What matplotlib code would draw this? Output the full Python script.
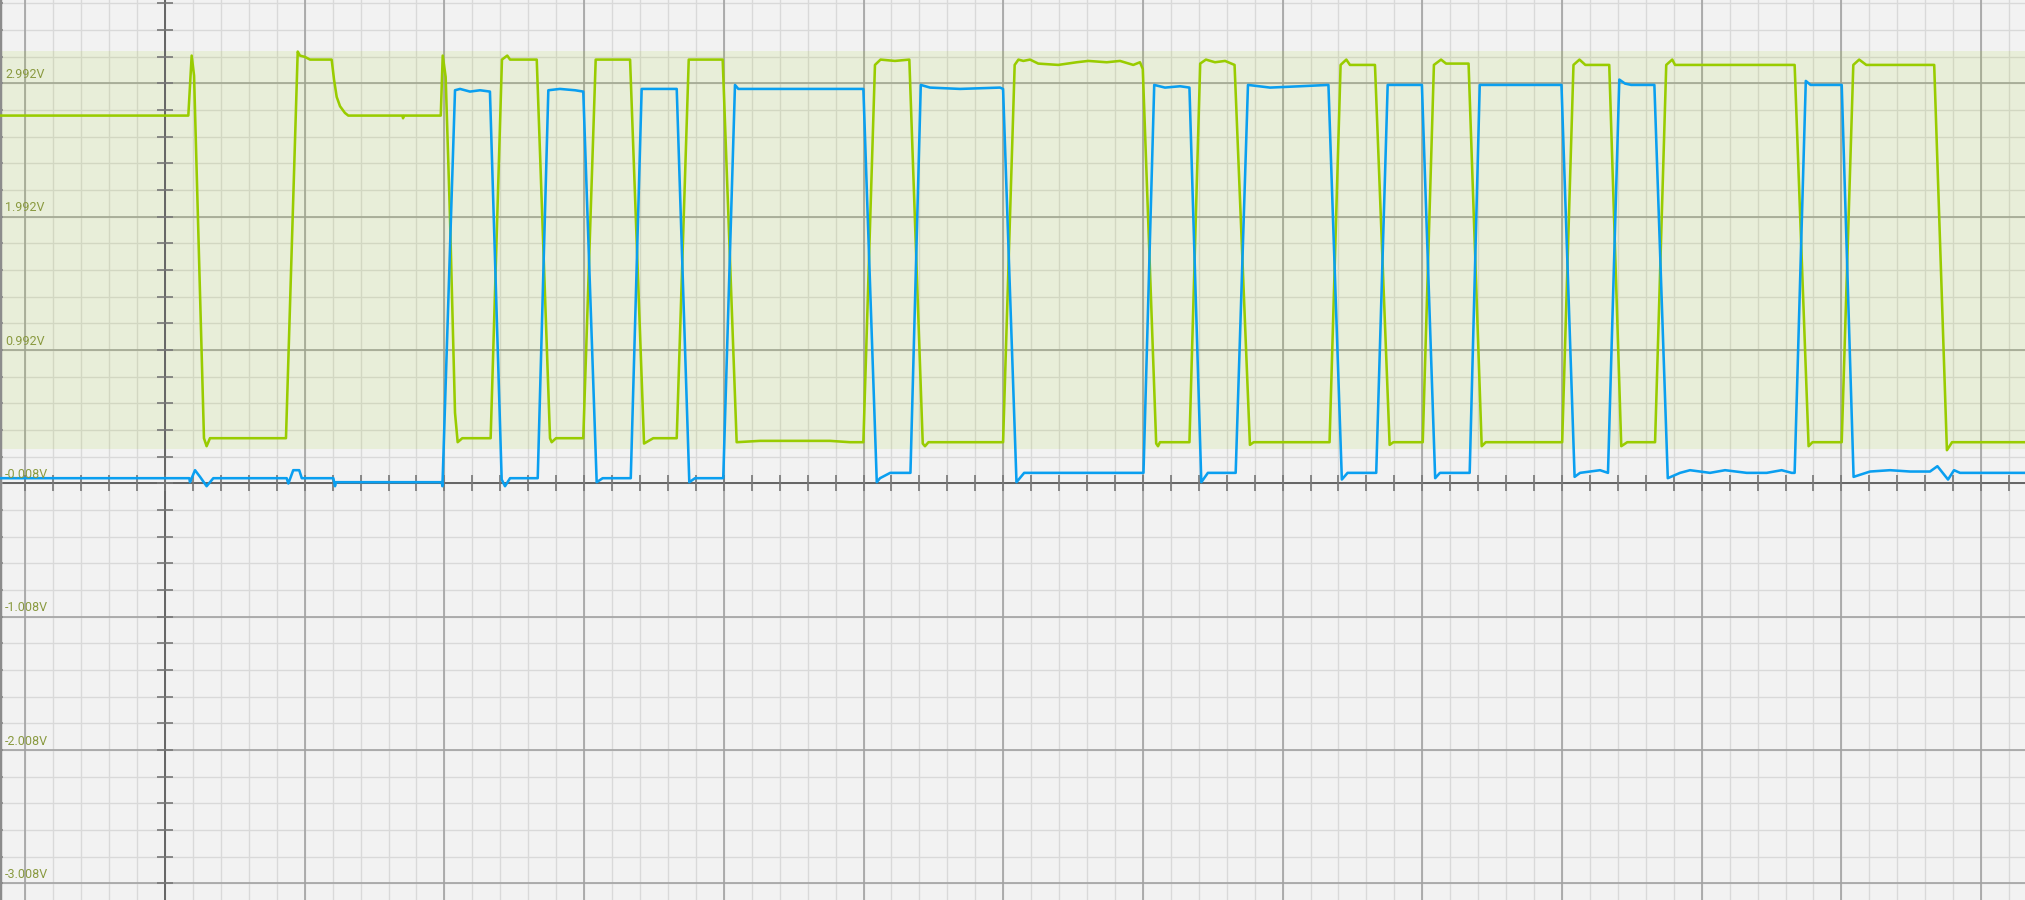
import matplotlib
matplotlib.use("Agg")
import matplotlib.pyplot as plt
import numpy as np

# time in divisions (0 = trigger axis), voltage in V
green_t = [-1.181, 0.167, 0.191, 0.208, 0.279, 0.298, 0.322, 0.866, 0.950, 0.966, 1.002, 1.038,
           1.193, 1.210, 1.229, 1.253, 1.288, 1.312, 1.700, 1.704, 1.710, 1.974, 1.988, 2.009,
           2.040, 2.076, 2.095, 2.128, 2.331, 2.412, 2.450, 2.470, 2.661, 2.756, 2.768, 2.799,
           2.994, 3.083, 3.329, 3.429, 3.495, 3.663, 3.749, 3.992, 4.092, 4.259, 4.545, 4.760,
           4.903, 4.999, 5.082, 5.122, 5.225, 5.328, 5.424, 5.440, 5.465, 5.999, 6.082, 6.109,
           6.144, 6.192, 6.251, 6.394, 6.526, 6.609, 6.741, 6.836, 6.931, 6.979, 6.999, 7.095,
           7.108, 7.122, 7.333, 7.410, 7.451, 7.516, 7.588, 7.656, 7.766, 7.793, 8.336, 8.415,
           8.456, 8.482, 8.661, 8.766, 8.793, 9.003, 9.083, 9.134, 9.170, 9.331, 9.425, 9.454,
           10.001, 10.082, 10.125, 10.167, 10.338, 10.424, 10.467, 10.666, 10.746, 10.789, 10.809,
           11.665, 11.765, 11.793, 12.002, 12.085, 12.127, 12.178, 12.664, 12.755, 12.792, 13.314]
green_v = [2.75, 2.75, 3.20, 3.05, 0.33, 0.27, 0.33, 0.33, 3.23, 3.20, 3.19, 3.17,
           3.17, 3.02, 2.89, 2.82, 2.77, 2.75, 2.75, 2.73, 2.75, 2.75, 3.20, 3.04,
           1.99, 0.52, 0.30, 0.33, 0.33, 3.17, 3.20, 3.17, 3.17, 0.33, 0.30, 0.33,
           0.33, 3.17, 3.17, 0.29, 0.33, 0.33, 3.17, 3.17, 0.30, 0.31, 0.31, 0.31,
           0.30, 0.30, 3.13, 3.17, 3.16, 3.17, 0.29, 0.27, 0.30, 0.30, 3.13, 3.17,
           3.16, 3.17, 3.14, 3.13, 3.15, 3.16, 3.15, 3.16, 3.13, 3.15, 3.10, 0.29,
           0.27, 0.30, 0.30, 3.14, 3.17, 3.15, 3.16, 3.13, 0.28, 0.30, 0.30, 3.13,
           3.17, 3.13, 3.13, 0.28, 0.30, 0.30, 3.13, 3.17, 3.14, 3.14, 0.27, 0.30,
           0.30, 3.13, 3.17, 3.13, 3.13, 0.27, 0.30, 0.30, 3.13, 3.17, 3.13,
           3.13, 0.27, 0.30, 0.30, 3.13, 3.17, 3.13, 3.13, 0.24, 0.30, 0.30]

blue_t = [-1.181, 0.174, 0.179, 0.215, 0.251, 0.298, 0.346, 0.871, 0.883, 0.918, 0.961, 0.979,
          1.205, 1.217, 1.224, 1.981, 1.986, 2.076, 2.112, 2.183, 2.255, 2.326, 2.410, 2.434,
          2.470, 2.668, 2.744, 2.827, 2.935, 2.994, 3.090, 3.133, 3.334, 3.412, 3.663, 3.753,
          3.794, 3.996, 4.080, 4.104, 4.999, 5.095, 5.118, 5.191, 5.336, 5.410, 5.476, 5.691,
          5.977, 5.999, 6.095, 6.150, 7.004, 7.081, 7.158, 7.266, 7.333, 7.418, 7.465, 7.664,
          7.752, 7.910, 8.125, 8.328, 8.424, 8.465, 8.670, 8.752, 8.997, 9.092, 9.126, 9.339,
          9.411, 9.996, 10.090, 10.129, 10.200, 10.272, 10.329, 10.410, 10.451, 10.495, 10.661,
          10.757, 10.845, 10.916, 10.988, 11.059, 11.167, 11.322, 11.465, 11.572, 11.644, 11.665,
          11.745, 11.779, 12.002, 12.087, 12.205, 12.348, 12.491, 12.634, 12.687, 12.763, 12.806,
          12.849, 13.314]
blue_v = [0.03, 0.03, 0.00, 0.09, 0.04, -0.03, 0.03, 0.03, -0.01, 0.09, 0.09, 0.03,
          0.03, -0.03, 0.00, 0.00, -0.03, 2.94, 2.95, 2.93, 2.94, 2.93, 0.02, -0.03,
          0.03, 0.03, 2.94, 2.95, 2.94, 2.93, 0.00, 0.03, 0.03, 2.95, 2.95, 0.00,
          0.03, 0.03, 2.98, 2.95, 2.95, 0.00, 0.03, 0.07, 0.07, 2.98, 2.96, 2.95,
          2.96, 2.95, 0.00, 0.07, 0.07, 2.98, 2.96, 2.97, 2.96, 0.00, 0.07, 0.07,
          2.98, 2.96, 2.97, 2.98, 0.02, 0.07, 0.07, 2.98, 2.98, 0.03, 0.07, 0.07,
          2.98, 2.98, 0.04, 0.07, 0.08, 0.09, 0.07, 3.02, 2.99, 2.98, 2.98,
          0.03, 0.07, 0.09, 0.08, 0.07, 0.09, 0.07, 0.07, 0.09, 0.07, 0.07,
          3.01, 2.98, 2.98, 0.04, 0.08, 0.09, 0.08, 0.08, 0.12, 0.02, 0.09,
          0.07, 0.07]

y_labels = ["2.992V", "1.992V", "0.992V", "-0.008V", "-1.008V", "-2.008V", "-3.008V"]
y_major = [2.992, 1.992, 0.992, -0.008, -1.008, -2.008, -3.008]
band_lo, band_hi = 0.252, 3.232

x_min, x_max = -1.181, 13.314
y_min, y_max = -3.134, 3.617

fig = plt.figure(figsize=(20.25, 9), dpi=100)
ax = fig.add_axes([0, 0, 1, 1])
ax.set_facecolor("#f2f2f2")
ax.set_xlim(x_min, x_max)
ax.set_ylim(y_min, y_max)

# grid
x_minor = np.arange(-1.0, 13.4, 0.2)
y_minor = np.arange(-3.208, 3.7, 0.2)
for x in x_minor:
    ax.axvline(x, color="#d9d9d9", lw=1.0, zorder=1)
for y in y_minor:
    ax.axhline(y, color="#d9d9d9", lw=1.0, zorder=1)
for x in range(-1, 14):
    ax.axvline(x, color="#a2a2a2", lw=1.2, zorder=1.5)
for y in y_major:
    ax.axhline(y, color="#a2a2a2", lw=1.2, zorder=1.5)

# highlighted band
ax.axhspan(band_lo, band_hi, color="#99cc00", alpha=0.1, lw=0, zorder=2)

# main axes with ticks
ax.axvline(0, color="#666666", lw=1.4, zorder=3)
ax.axhline(-0.008, color="#666666", lw=1.4, zorder=3)
ax.vlines(x_minor, -0.008 - 0.06, -0.008 + 0.06, color="#777777", lw=1.2, zorder=3)
ax.hlines(y_minor, -0.057, 0.057, color="#777777", lw=1.2, zorder=3)
ax.hlines(y_minor, x_min, x_min + 0.02, color="#888888", lw=1.2, zorder=3)
ax.axvline(x_min, color="#8c8c8c", lw=2.5, zorder=3)

# traces
ax.plot(green_t, green_v, color="#99cc00", lw=1.85, zorder=4)
ax.plot(blue_t, blue_v, color="#0a9ff0", lw=1.85, zorder=5)

for y, lab in zip(y_major, y_labels):
    ax.text(x_min + 0.036, y + 0.04, lab, color="#8a9a40", fontsize=9,
            family="Roboto", fontstretch="condensed", va="baseline", ha="left", zorder=6)

ax.set_xticks([])
ax.set_yticks([])
for s in ax.spines.values():
    s.set_visible(False)

fig.savefig("out.png", dpi=100)
